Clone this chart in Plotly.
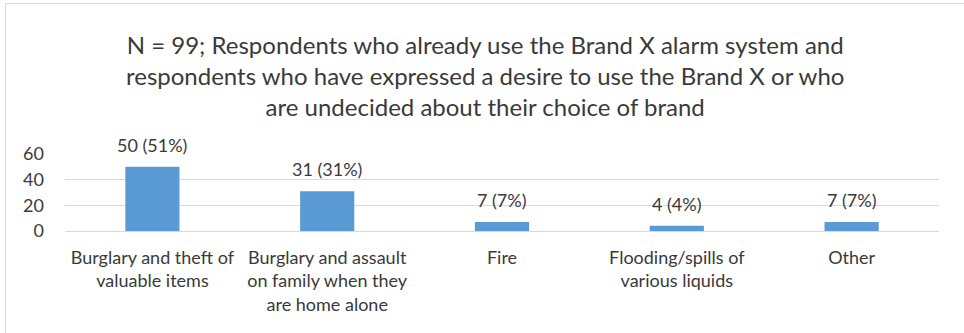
import plotly.graph_objects as go

# Survey results: reasons for choosing an alarm system (N = 99)
categories = [
    "Burglary and theft of<br>valuable items",
    "Burglary and assault<br>on family when they<br>are home alone",
    "Fire",
    "Flooding/spills of<br>various liquids",
    "Other",
]
counts = [50, 31, 7, 4, 7]
percents = [51, 31, 7, 4, 7]
y_ticks = [0, 20, 40, 60]

title_text = (
    "N = 99; Respondents who already use the Brand X alarm system and<br>"
    "respondents who have expressed a desire to use the Brand X or who<br>"
    "are undecided about their choice of brand"
)

FONT = "Lato"
TEXT = "#3a3a3a"
GRID = "#D9D9D9"
BAR = "#5B9BD5"

W, H = 964, 333
L, R, T, B = 65, 25, 154, 102
plot_w = W - L - R
plot_h = H - T - B

fig = go.Figure()
fig.add_trace(go.Bar(
    x=categories,
    y=counts,
    marker=dict(color=BAR, line=dict(width=0)),
    hoverinfo="skip",
))

# value labels above each bar
for cat, c, p in zip(categories, counts, percents):
    fig.add_annotation(
        x=cat, y=c, xref="x", yref="y",
        text=f"{c} ({p}%)",
        showarrow=False, yanchor="bottom", yshift=9,
        font=dict(family=FONT, size=18, color=TEXT),
    )

# three-line chart title, centred above the plot
fig.add_annotation(
    text=title_text,
    xref="paper", yref="paper",
    x=(485 - L) / plot_w, xanchor="center",
    y=(H - B - 75) / plot_h, yanchor="middle",
    showarrow=False, align="center",
    font=dict(family=FONT, size=24, color=TEXT),
)

# light frame around the chart area
fig.add_shape(
    type="rect", xref="paper", yref="paper",
    x0=(5.5 - L) / plot_w, x1=1.2,
    y0=-3, y1=(H - B - 3.5) / plot_h,
    line=dict(color=GRID, width=1), layer="below",
)

fig.update_layout(
    width=W, height=H,
    margin=dict(l=L, r=R, t=T, b=B, pad=0),
    paper_bgcolor="white", plot_bgcolor="white",
    showlegend=False,
    bargap=0.69,
    font=dict(family=FONT, color=TEXT),
)
fig.update_xaxes(
    showline=False, showgrid=False, ticks="",
    tickfont=dict(family=FONT, size=18, color=TEXT),
    ticklabelstandoff=14,
)
fig.update_yaxes(
    range=[0, 60], tickvals=y_ticks,
    showgrid=True, gridcolor=GRID, gridwidth=1,
    zeroline=True, zerolinecolor=GRID, zerolinewidth=1,
    showline=False, ticks="",
    tickfont=dict(family=FONT, size=18, color=TEXT),
    ticklabelstandoff=20,
)

fig.write_html("out.html")
